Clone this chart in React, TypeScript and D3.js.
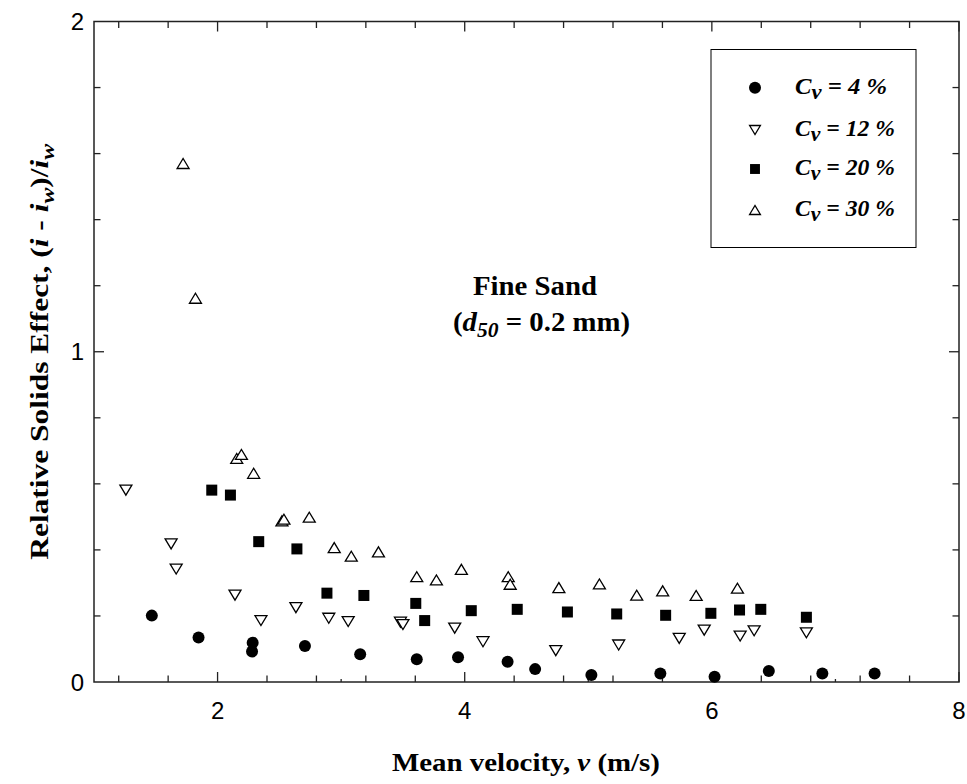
import React from "react";
import * as d3 from "d3";

const cv4: [number, number][] = [
  [1.468, 0.201], [1.846, 0.135], [2.284, 0.119], [2.279, 0.092], [2.707, 0.109],
  [3.154, 0.084], [3.612, 0.069], [3.946, 0.075], [4.347, 0.061], [4.57, 0.039],
  [5.025, 0.021], [5.583, 0.026], [6.022, 0.016], [6.461, 0.033], [6.894, 0.026],
  [7.317, 0.026],
];
const cv12: [number, number][] = [
  [1.258, 0.581], [1.624, 0.418], [1.665, 0.342], [2.141, 0.263], [2.351, 0.186],
  [2.634, 0.225], [2.9, 0.193], [3.057, 0.183], [3.48, 0.181], [3.5, 0.174],
  [3.919, 0.163], [4.148, 0.122], [4.737, 0.095], [5.246, 0.112], [5.736, 0.132],
  [5.938, 0.157], [6.229, 0.139], [6.342, 0.155], [6.765, 0.149],
];
const cv20: [number, number][] = [
  [1.953, 0.581], [2.104, 0.566], [2.333, 0.425], [2.642, 0.403], [2.885, 0.269],
  [3.184, 0.262], [3.604, 0.238], [3.676, 0.186], [4.053, 0.216], [4.425, 0.22],
  [4.831, 0.212], [5.23, 0.206], [5.626, 0.202], [5.992, 0.208], [6.224, 0.218],
  [6.396, 0.22], [6.765, 0.196],
];
const cv30: [number, number][] = [
  [1.721, 1.57], [1.821, 1.162], [2.155, 0.677], [2.193, 0.689], [2.292, 0.632],
  [2.521, 0.488], [2.537, 0.493], [2.742, 0.499], [2.944, 0.407], [3.082, 0.381],
  [3.302, 0.394], [3.612, 0.319], [3.771, 0.309], [3.973, 0.341], [4.352, 0.319],
  [4.368, 0.296], [4.762, 0.286], [5.09, 0.297], [5.392, 0.263], [5.602, 0.276],
  [5.873, 0.262], [6.207, 0.284],
];
const legendLabels = ["4 %", "12 %", "20 %", "30 %"];
const xMajorTicks = [2, 4, 6, 8];
const xMinorTicks = d3.range(3, 21).map((k) => +(k * 0.4).toFixed(1));
const xTinyTicks = [3, 5, 7];
const yMajorTicks = [0, 1, 2];
const yMinorTicks = d3.range(1, 10).map((k) => +(k * 0.2).toFixed(1));

const W = 967, H = 784;
const L = 94, R = 959, T = 21.5, B = 682;

type Kind = "circle" | "down" | "square" | "up";

function Marker({ kind, x, y, s = 1 }: { kind: Kind; x: number; y: number; s?: number }) {
  if (kind === "circle") return <circle cx={x} cy={y} r={6 * s} fill="#000" />;
  if (kind === "square")
    return <rect x={x - 5.5 * s} y={y - 5.5 * s} width={11 * s} height={11 * s} fill="#000" />;
  const w = 6 * s, h = 5 * s;
  const pts =
    kind === "up"
      ? `${x - w},${y + h} ${x + w},${y + h} ${x},${y - h}`
      : `${x - w},${y - h} ${x + w},${y - h} ${x},${y + h}`;
  return <polygon points={pts} fill="#fff" stroke="#000" strokeWidth={1.3} strokeLinejoin="miter" />;
}

export default function App() {
  const x = d3.scaleLinear().domain([1, 8]).range([L, R]);
  const y = d3.scaleLinear().domain([0, 2]).range([B, T]);
  const series: { data: [number, number][]; kind: Kind }[] = [
    { data: cv4, kind: "circle" },
    { data: cv12, kind: "down" },
    { data: cv20, kind: "square" },
    { data: cv30, kind: "up" },
  ];
  const axisColor = "#222";
  const serif = "'Liberation Serif', 'Times New Roman', serif";
  const sans = "'Liberation Sans', Arial, Helvetica, sans-serif";
  const legendLens = [92, 100, 100, 100];

  return (
    <svg width={W} height={H} style={{ position: "absolute", left: 0, top: 0, background: "#fff" }}>
      <rect x={0} y={0} width={W} height={H} fill="#fff" />
      {/* ticks */}
      <g stroke={axisColor} strokeWidth={1.3}>
        {xMinorTicks.map((t) => {
          const major = xMajorTicks.includes(t);
          const len = major ? 10 : 6.5;
          return (
            <g key={"x" + t}>
              <line x1={x(t)} x2={x(t)} y1={B} y2={B - len} />
              <line x1={x(t)} x2={x(t)} y1={T} y2={T + len} />
            </g>
          );
        })}
        {xTinyTicks.map((t) => (
          <line key={"xt" + t} x1={x(t)} x2={x(t)} y1={B} y2={B - 3} />
        ))}
        {yMinorTicks.map((t) => {
          const major = yMajorTicks.includes(t);
          const len = major ? 10 : 6.5;
          return (
            <g key={"y" + t}>
              <line x1={L} x2={L + len} y1={y(t)} y2={y(t)} />
              <line x1={R} x2={R - len} y1={y(t)} y2={y(t)} />
            </g>
          );
        })}
      </g>
      <rect x={L} y={T} width={R - L} height={B - T} fill="none" stroke={axisColor} strokeWidth={1.5} />
      {/* tick labels */}
      <g fontFamily={sans} fontSize={24} fill="#000">
        {xMajorTicks.map((t) => (
          <text key={"xl" + t} x={x(t)} y={719} textAnchor="middle">{t}</text>
        ))}
        {yMajorTicks.map((t) => (
          <text key={"yl" + t} x={84} y={y(t) + 8.5} textAnchor="end">{t}</text>
        ))}
      </g>
      {/* data */}
      {series.map((s, i) => (
        <g key={"s" + i}>
          {s.data.map((d, j) => (
            <Marker key={j} kind={s.kind} x={x(d[0])} y={y(d[1])} />
          ))}
        </g>
      ))}
      {/* legend */}
      <rect x={711} y={49.5} width={205} height={198} fill="#fff" stroke="#000" strokeWidth={1} />
      {series.map((s, i) => {
        const cy = [87.7, 130, 169, 210][i];
        return (
          <g key={"lg" + i}>
            <Marker kind={s.kind} x={755} y={cy} s={s.kind === "circle" ? 1 : 0.9} />
            <text
              x={795}
              y={cy + 6}
              fontFamily={serif}
              fontWeight="bold"
              fontStyle="italic"
              fontSize={23}
              textLength={legendLens[i]}
              lengthAdjust="spacingAndGlyphs"
            >
              C<tspan fontSize={21} dy={5}>v</tspan>
              <tspan dy={-5}> = {legendLabels[i]}</tspan>
            </text>
          </g>
        );
      })}
      {/* annotation */}
      <text
        x={473}
        y={295}
        fontFamily={serif}
        fontWeight="bold"
        fontSize={28}
        textLength={124}
        lengthAdjust="spacingAndGlyphs"
      >
        Fine Sand
      </text>
      <text
        x={453}
        y={331}
        fontFamily={serif}
        fontWeight="bold"
        fontSize={28}
        textLength={177}
        lengthAdjust="spacingAndGlyphs"
      >
        (<tspan fontStyle="italic">d</tspan>
        <tspan fontStyle="italic" fontSize={21} dy={6}>50</tspan>
        <tspan dy={-6}> = 0.2 mm)</tspan>
      </text>
      {/* x title */}
      <text
        x={526 - 134}
        y={771}
        fontFamily={serif}
        fontWeight="bold"
        fontSize={26}
        textLength={268}
        lengthAdjust="spacingAndGlyphs"
      >
        Mean velocity, <tspan fontStyle="italic">v</tspan> (m/s)
      </text>
      {/* y title */}
      <text
        transform={`translate(48, ${(T + B) / 2 + 208}) rotate(-90)`}
        fontFamily={serif}
        fontWeight="bold"
        fontSize={25}
        textLength={416}
        lengthAdjust="spacingAndGlyphs"
      >
        Relative Solids Effect, (<tspan fontStyle="italic">i</tspan> - <tspan fontStyle="italic">i</tspan>
        <tspan fontStyle="italic" fontSize={19} dy={6}>w</tspan>
        <tspan dy={-6}>)/</tspan>
        <tspan fontStyle="italic">i</tspan>
        <tspan fontStyle="italic" fontSize={19} dy={6}>w</tspan>
      </text>
    </svg>
  );
}
